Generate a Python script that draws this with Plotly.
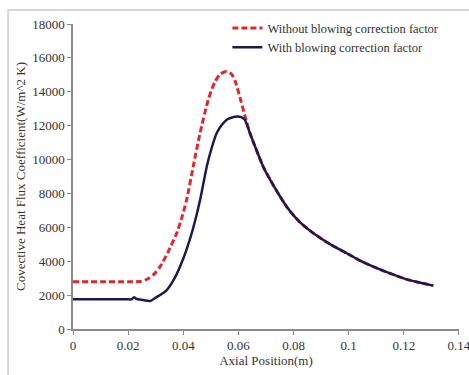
import plotly.graph_objects as go

# Data
x_without = [0, 0.01, 0.02, 0.0243, 0.027, 0.0295, 0.0316, 0.0345, 0.0376, 0.0394, 0.0412,
             0.0436, 0.046, 0.049, 0.0515, 0.0535, 0.0557, 0.0575, 0.059, 0.061, 0.0625, 0.0642,
             0.069, 0.0735, 0.0775, 0.082, 0.0872, 0.0935, 0.0993, 0.1045, 0.1089, 0.115,
             0.121, 0.126, 0.1307]
h_without = [2790, 2790, 2790, 2800, 2950, 3250, 3680, 4550, 5650, 6530, 7610,
             9580, 11500, 13500, 14600, 15050, 15200, 15050, 14550, 13400, 12500, 11550,
             9580, 8250, 7220, 6350, 5650, 4980, 4470, 4000, 3680, 3280,
             2930, 2730, 2560]

x_with = [0, 0.01, 0.02, 0.0212, 0.0221, 0.023, 0.025, 0.0279, 0.030, 0.032, 0.034, 0.0365,
          0.0388, 0.041, 0.0435, 0.0461, 0.0485, 0.0505, 0.0521, 0.054, 0.056, 0.0588, 0.061,
          0.0624, 0.0642, 0.069, 0.0735, 0.0775, 0.082, 0.0872, 0.0935, 0.0993, 0.1045,
          0.1089, 0.115, 0.121, 0.126, 0.1307]
h_with = [1750, 1750, 1750, 1750, 1880, 1780, 1720, 1650, 1850, 2050, 2300, 2900,
          3680, 4600, 5900, 7610, 9580, 10800, 11550, 12050, 12380, 12530, 12500,
          12330, 11550, 9580, 8250, 7220, 6350, 5650, 4980, 4470, 4000,
          3680, 3280, 2930, 2730, 2560]

x_tickvals = [0, 0.02, 0.04, 0.06, 0.08, 0.1, 0.12, 0.14]
x_ticktext = ["0", "0.02", "0.04", "0.06", "0.08", "0.1", "0.12", "0.14"]
y_tickvals = [0, 2000, 4000, 6000, 8000, 10000, 12000, 14000, 16000, 18000]
y_ticktext = ["0", "2000", "4000", "6000", "8000", "10000", "12000", "14000", "16000", "18000"]

serif = "Liberation Serif"

fig = go.Figure()
fig.add_trace(go.Scatter(
    x=x_without, y=h_without, mode="lines",
    name="Without blowing correction factor",
    line=dict(color="#e3262e", width=3, dash="6px,3px", shape="spline", smoothing=0.6),
))
fig.add_trace(go.Scatter(
    x=x_with, y=h_with, mode="lines",
    name="With blowing correction factor",
    line=dict(color="#1b1a4e", width=2.5, shape="spline", smoothing=0.4),
))

axis_common = dict(
    showgrid=False, zeroline=False, showline=True, linecolor="#8a8a8a", linewidth=1.5,
    ticks="outside", ticklen=4, tickcolor="#8a8a8a", tickwidth=1,
    automargin=False, ticklabeloverflow="allow",
    tickfont=dict(family=serif, size=13, color="#333333"),
)

fig.update_layout(
    width=469, height=375,
    margin=dict(l=73, r=10, t=24, b=46),
    paper_bgcolor="white", plot_bgcolor="white",
    showlegend=True,
    legend=dict(x=0.40, y=1.035, xanchor="left", yanchor="top",
                bgcolor="rgba(0,0,0,0)", font=dict(family=serif, size=12.5, color="#333333"),
                tracegroupgap=0, itemwidth=30),
    xaxis=dict(range=[0, 0.14001], tickvals=x_tickvals, ticktext=x_ticktext,
               title=dict(text="Axial Position(m)", font=dict(family=serif, size=13, color="#333333"),
                          standoff=3),
               **axis_common),
    yaxis=dict(range=[0, 18000], tickvals=y_tickvals, ticktext=y_ticktext,
               title=dict(text="Covective Heat Flux Coefficient(W/m^2 K)",
                          font=dict(family=serif, size=13, color="#333333"), standoff=4),
               **axis_common),
    shapes=[dict(type="rect", xref="paper", yref="paper",
                 x0=-0.168, x1=1.2, y0=-0.3, y1=1.046,
                 line=dict(color="#d6d6d6", width=2), fillcolor="rgba(0,0,0,0)", layer="below")],
)

fig.write_html("out.html")
